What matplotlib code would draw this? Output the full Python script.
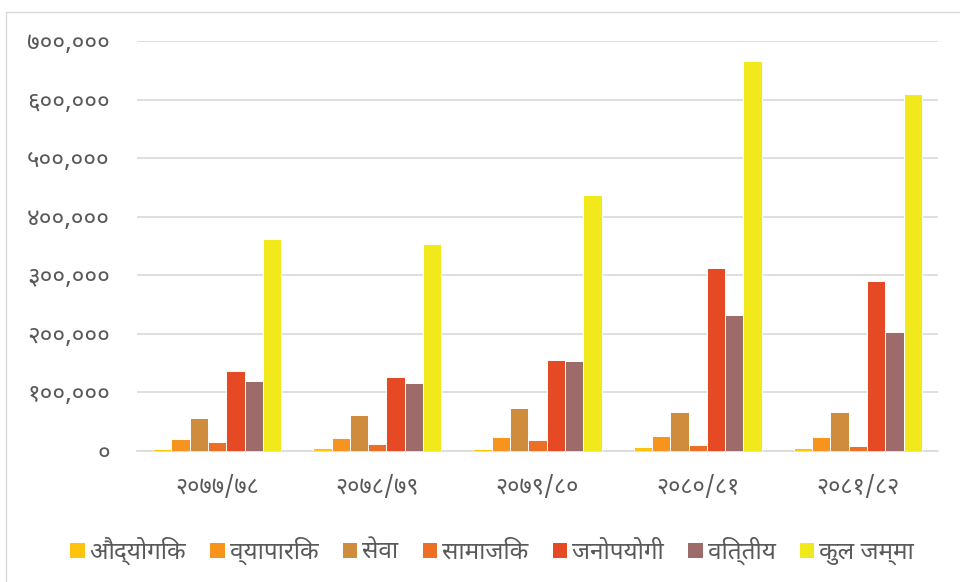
import matplotlib
matplotlib.use("Agg")
import matplotlib.pyplot as plt
from matplotlib.patches import Rectangle, Patch
import numpy as np

plt.rcParams['font.family'] = ['Noto Sans Devanagari', 'DejaVu Sans']

years = ["२०७७/७८", "२०७८/७९", "२०७९/८०", "२०८०/८१", "२०८१/८२"]
series_names = ["औद्योगिक", "व्यापारिक", "सेवा", "सामाजिक", "जनोपयोगी", "वित्तीय", "कुल जम्मा"]
audhyogik   = [4000, 4600, 4000, 7400, 5700]
byaparik    = [21000, 22200, 23900, 26200, 24500]
sewa        = [55800, 61400, 72900, 67200, 66700]
samajik     = [15400, 12000, 18300, 9700, 8500]
janopayogi  = [136000, 126000, 155300, 312300, 291000]
bittiya     = [119000, 115500, 153600, 232500, 202900]
kul_jamma   = [362000, 353000, 436900, 666000, 610300]
series_values = [audhyogik, byaparik, sewa, samajik, janopayogi, bittiya, kul_jamma]
colors = ["#FFC20E", "#F7941D", "#CF8C3C", "#EC6F25", "#E54A24", "#9D6B6A", "#F1E91B"]

yticks = [0, 100000, 200000, 300000, 400000, 500000, 600000, 700000]
ytick_labels = ["०", "१००,०००", "२००,०००", "३००,०००", "४००,०००", "५००,०००", "६००,०००", "७००,०००"]

W, H = 960, 582
fig = plt.figure(figsize=(W/100, H/100), dpi=100)
ax = fig.add_axes([137/W, 1-451/H, (938-137)/W, (451-41)/H])

x = np.arange(len(years))
n = len(series_values)
group_w = 0.8
bw = group_w / n
for i, (vals, c) in enumerate(zip(series_values, colors)):
    ax.bar(x - group_w/2 + bw*(i+0.5), vals, width=bw, color=c,
           edgecolor="white", linewidth=0.7, label=series_names[i], zorder=3)

ax.set_xlim(-0.5, len(years)-0.5)
ax.set_ylim(0, 700000)
ax.set_yticks(yticks)
ax.set_yticklabels(ytick_labels)
ax.set_xticks(x)
ax.set_xticklabels(years)
ax.tick_params(axis='y', length=0, pad=19.5, labelsize=17.5, labelcolor="#595959")
ax.tick_params(axis='x', length=0, pad=18, labelsize=17, labelcolor="#595959")
ax.grid(axis='y', color="#D9D9D9", linewidth=1.2, zorder=0)
ax.set_axisbelow(True)
for s in ["top", "right", "left"]:
    ax.spines[s].set_visible(False)
ax.spines["bottom"].set_color("#D9D9D9")
ax.spines["bottom"].set_linewidth(1.2)

handles = [Patch(facecolor=c, edgecolor="none") for c in colors]
fig.legend(handles, series_names, loc="center", bbox_to_anchor=(492/W, 1-551/H),
           ncol=7, frameon=False, fontsize=17.5, labelcolor="#595959",
           handlelength=0.6, handleheight=0.6, handletextpad=0.2, columnspacing=1.0)

fig.patches.append(Rectangle((6/W, -0.1), 2, 1-12/H+0.1, transform=fig.transFigure,
                             facecolor="none", edgecolor="#D9D9D9", linewidth=1.0))

fig.savefig("out.png", dpi=100)
